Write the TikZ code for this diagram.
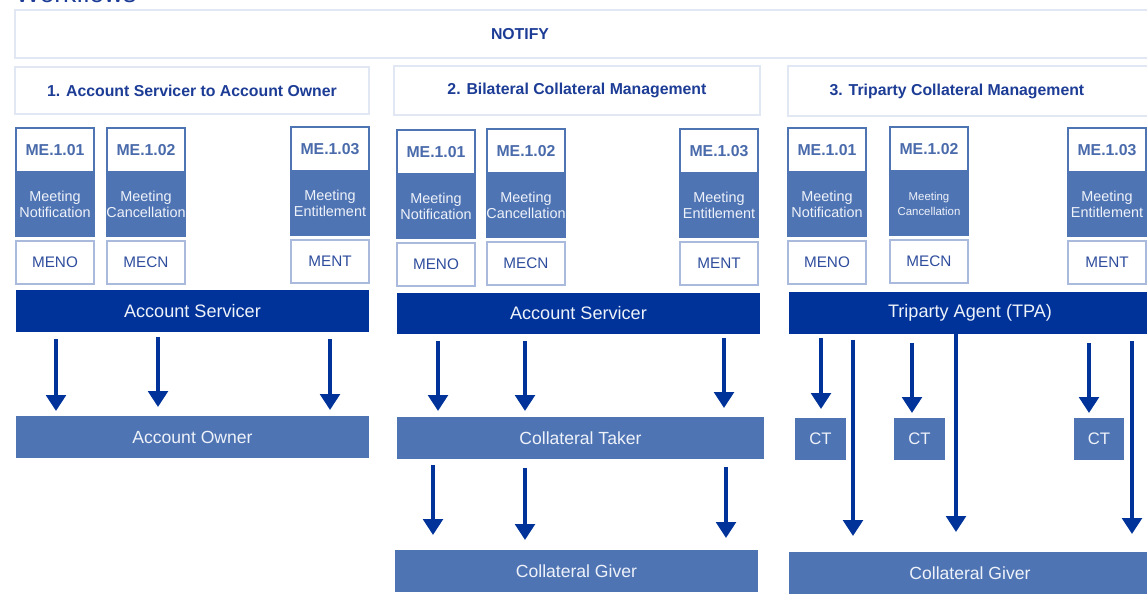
\documentclass[tikz,border=0pt]{standalone}
\usepackage{fontspec}
\setmainfont{Liberation Sans}
\usetikzlibrary{positioning,arrows.meta}
\definecolor{darkblue}{HTML}{003399}
\definecolor{midblue}{HTML}{4F74B4}
\definecolor{headblue}{HTML}{1C3C96}
\definecolor{codeblue}{HTML}{4A6BAB}
\definecolor{msgblue}{HTML}{2E4D9D}
\definecolor{lightline}{HTML}{E2E8F3}
\definecolor{paleline}{HTML}{A9BADD}
\definecolor{bartext}{HTML}{EEF2F9}
\tikzset{
  framebox/.style={
    rectangle, draw=lightline, line width=1.1pt, fill=white,
    inner sep=0pt, outer sep=0pt
  },
  headtext/.style={text=headblue, font=\fontsize{9}{11}\selectfont\bfseries},
  codebox/.style={
    rectangle, draw=midblue, line width=1.1pt, fill=white,
    minimum width=1.56cm, minimum height=0.88cm, inner sep=0pt, outer sep=0pt,
    text=codeblue, font=\fontsize{9}{11}\selectfont\bfseries
  },
  descbox/.style={
    rectangle, fill=midblue, minimum width=1.6cm, minimum height=1.3cm,
    inner sep=0pt, outer sep=0pt, align=center,
    text=bartext, font=\fontsize{8.2}{9.5}\selectfont
  },
  msgbox/.style={
    rectangle, draw=paleline, line width=1.1pt, fill=white,
    minimum width=1.56cm, minimum height=0.86cm, inner sep=0pt, outer sep=0pt,
    text=msgblue, font=\fontsize{8.7}{10}\selectfont
  },
  partybar/.style={
    rectangle, fill=darkblue, minimum height=0.84cm, inner sep=0pt, outer sep=0pt,
    text=bartext, font=\fontsize{10.3}{12}\selectfont
  },
  rolebar/.style={
    rectangle, fill=midblue, minimum height=0.84cm, inner sep=0pt, outer sep=0pt,
    text=bartext, font=\fontsize{10}{12}\selectfont
  },
  flow/.style={
    draw=darkblue, line width=2.7pt, -{Triangle[width=11pt,length=9pt]}
  },
}

\begin{document}
\begin{tikzpicture}[x=0.02cm, y=-0.02cm]
\useasboundingbox (0,0) rectangle (1147,598);
\clip (0,0) rectangle (1147,598);

\node[anchor=base west, inner sep=0pt, text=headblue, font=\fontsize{15}{18}\selectfont] (WORKFLOWS) at (15,3) {Workflows};

\node[framebox, anchor=north west, minimum width=22.7cm, minimum height=0.96cm] (NOTIFY) at (15,10) {};
\node[headtext] (NOTIFYTXT) at (520,34) {NOTIFY};

% column headers
\node[framebox, headtext, anchor=north west, minimum width=7.08cm, minimum height=0.94cm] (TITLE1) at (15,67) {1. Account Servicer to Account Owner};
\node[framebox, headtext, anchor=north west, minimum width=7.32cm, minimum height=0.98cm] (TITLE2) at (394,66) {2. Bilateral Collateral Management};
\node[framebox, headtext, anchor=north west, minimum width=7.24cm, minimum height=1.0cm] (TITLE3) at (788,66) {\hspace*{-0.48cm}3. Triparty Collateral Management};

% 1. account servicer to account owner
\node[codebox, anchor=north west] (CODE1A) at (16,128) {ME.1.01};
\node[descbox, below=0pt of CODE1A] (DESC1A) {Meeting\\Notification};
\node[msgbox, below=0.08cm of DESC1A] (MSG1A) {MENO};

\node[codebox, anchor=north west] (CODE1B) at (107,128) {ME.1.02};
\node[descbox, below=0pt of CODE1B] (DESC1B) {Meeting\\Cancellation};
\node[msgbox, below=0.08cm of DESC1B] (MSG1B) {MECN};

\node[codebox, anchor=north west] (CODE1C) at (291,127) {ME.1.03};
\node[descbox, below=0pt of CODE1C] (DESC1C) {Meeting\\Entitlement};
\node[msgbox, below=0.08cm of DESC1C] (MSG1C) {MENT};

\node[partybar, anchor=north west, minimum width=7.06cm] (SERV1) at (16,290) {Account Servicer};
\node[rolebar, anchor=north west, minimum width=7.06cm] (OWNER1) at (16,416) {Account Owner};

% 2. bilateral
\node[codebox, anchor=north west] (CODE2A) at (397,130) {ME.1.01};
\node[descbox, below=0pt of CODE2A] (DESC2A) {Meeting\\Notification};
\node[msgbox, below=0.08cm of DESC2A] (MSG2A) {MENO};

\node[codebox, anchor=north west] (CODE2B) at (487,129) {ME.1.02};
\node[descbox, below=0pt of CODE2B] (DESC2B) {Meeting\\Cancellation};
\node[msgbox, below=0.08cm of DESC2B] (MSG2B) {MECN};

\node[codebox, anchor=north west] (CODE2C) at (680,129) {ME.1.03};
\node[descbox, below=0pt of CODE2C] (DESC2C) {Meeting\\Entitlement};
\node[msgbox, below=0.08cm of DESC2C] (MSG2C) {MENT};

\node[partybar, anchor=north west, minimum width=7.26cm, minimum height=0.82cm] (SERV2) at (397,293) {Account Servicer};
\node[rolebar, anchor=north west, minimum width=7.34cm] (TAKER2) at (397,417) {Collateral Taker};
\node[rolebar, anchor=north west, minimum width=7.26cm] (GIVER2) at (395,550) {Collateral Giver};

% 3. triparty
\node[codebox, anchor=north west] (CODE3A) at (788,128) {ME.1.01};
\node[descbox, below=0pt of CODE3A] (DESC3A) {Meeting\\Notification};
\node[msgbox, below=0.08cm of DESC3A] (MSG3A) {MENO};

\node[codebox, anchor=north west] (CODE3B) at (890,127) {ME.1.02};
\node[descbox, below=0pt of CODE3B, font=\fontsize{6.5}{8.5}\selectfont] (DESC3B) {Meeting\\Cancellation};
\node[msgbox, below=0.08cm of DESC3B] (MSG3B) {MECN};

\node[codebox, anchor=north west] (CODE3C) at (1068,128) {ME.1.03};
\node[descbox, below=0pt of CODE3C] (DESC3C) {Meeting\\Entitlement};
\node[msgbox, below=0.08cm of DESC3C] (MSG3C) {MENT};

\node[partybar, anchor=north west, minimum width=7.24cm] (TPA3) at (789,292) {Triparty Agent (TPA)};
\node[rolebar, anchor=north west, minimum width=1.02cm, font=\fontsize{9.5}{11}\selectfont] (CT3A) at (795,418) {CT};
\node[rolebar, anchor=north west, minimum width=1.02cm, font=\fontsize{9.5}{11}\selectfont] (CT3B) at (894,418) {CT};
\node[rolebar, anchor=north west, minimum width=1.0cm, font=\fontsize{9.5}{11}\selectfont] (CT3C) at (1074,418) {CT};
\node[rolebar, anchor=north west, minimum width=7.24cm] (GIVER3) at (789,552) {Collateral Giver};

% arrow columns
\coordinate (X1A) at (56,0);
\coordinate (X1B) at (158,0);
\coordinate (X1C) at (330,0);
\coordinate (X2A) at (438,0);
\coordinate (X2B) at (525,0);
\coordinate (X2C) at (724,0);
\coordinate (Y2A) at (433,0);
\coordinate (Y2C) at (726,0);
\coordinate (S3A) at (821,0);
\coordinate (S3B) at (912,0);
\coordinate (S3C) at (1089,0);
\coordinate (L3A) at (853,0);
\coordinate (L3B) at (956,0);
\coordinate (L3C) at (1132,0);

\draw[flow, shorten <=0.14cm, shorten >=0.1cm] (SERV1.south -| X1A) -- (OWNER1.north -| X1A);
\draw[flow, shorten <=0.1cm, shorten >=0.18cm] (SERV1.south -| X1B) -- (OWNER1.north -| X1B);
\draw[flow, shorten <=0.14cm, shorten >=0.12cm] (SERV1.south -| X1C) -- (OWNER1.north -| X1C);

\draw[flow, shorten <=0.14cm, shorten >=0.12cm] (SERV2.south -| X2A) -- (TAKER2.north -| X2A);
\draw[flow, shorten <=0.14cm, shorten >=0.12cm] (SERV2.south -| X2B) -- (TAKER2.north -| X2B);
\draw[flow, shorten <=0.08cm, shorten >=0.18cm] (SERV2.south -| X2C) -- (TAKER2.north -| X2C);
\draw[flow, shorten <=0.12cm, shorten >=0.3cm] (TAKER2.south -| Y2A) -- (GIVER2.north -| Y2A);
\draw[flow, shorten <=0.18cm, shorten >=0.2cm] (TAKER2.south -| X2B) -- (GIVER2.north -| X2B);
\draw[flow, shorten <=0.16cm, shorten >=0.24cm] (TAKER2.south -| Y2C) -- (GIVER2.north -| Y2C);

\draw[flow, shorten <=0.08cm, shorten >=0.18cm] (TPA3.south -| S3A) -- (CT3A.north -| S3A);
\draw[flow, shorten <=0.18cm, shorten >=0.1cm] (TPA3.south -| S3B) -- (CT3B.north -| S3B);
\draw[flow, shorten <=0.18cm, shorten >=0.1cm] (TPA3.south -| S3C) -- (CT3C.north -| S3C);
\draw[flow, shorten <=0.12cm, shorten >=0.32cm] (TPA3.south -| L3A) -- (GIVER3.north -| L3A);
\draw[flow, shorten >=0.4cm] (TPA3.south -| L3B) -- (GIVER3.north -| L3B);
\draw[flow, shorten <=0.14cm, shorten >=0.36cm] (TPA3.south -| L3C) -- (GIVER3.north -| L3C);
\end{tikzpicture}
\end{document}
